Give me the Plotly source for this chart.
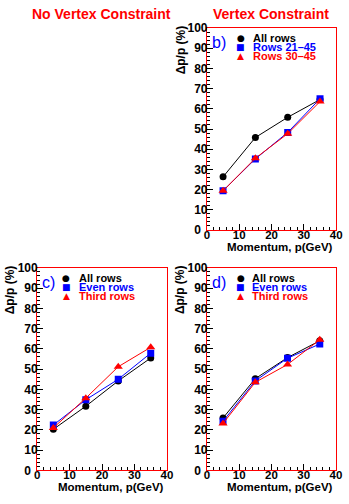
import plotly.graph_objects as go

W, H = 349, 504

momentum = [5, 15, 25, 35]

# panel b) Vertex Constraint
b_all = [26.3, 45.8, 55.8, 64.6]
b_rows21 = [19.4, 35.2, 48.3, 65.0]
b_rows30 = [19.4, 35.5, 47.7, 63.6]
# panel c) No Vertex Constraint
c_all = [20.3, 31.7, 44.2, 55.5]
c_even = [22.4, 34.9, 45.0, 57.9]
c_third = [21.0, 35.7, 51.2, 60.8]
# panel d) Vertex Constraint
d_all = [25.9, 45.3, 55.7, 64.0]
d_even = [24.3, 44.2, 55.4, 62.4]
d_third = [23.2, 43.5, 52.3, 64.5]

x_ticks = [0, 10, 20, 30, 40]
y_ticks = [0, 10, 20, 30, 40, 50, 60, 70, 80, 90, 100]

BLACK, BLUE, RED = "#000000", "#0000ff", "#ff0000"
FONT = "Liberation Sans"


def px(x):
    return x / W


def py(y):
    return 1 - y / H


panels = [
    ("", (209.3, 342), (21.7, 229.3), "b)",
     [(b_all, BLACK, "circle", "All rows"),
      (b_rows21, BLUE, "square", "Rows 21\u201345"),
      (b_rows30, RED, "triangle-up", "Rows 30\u201345")], 244, 255),
    ("2", (35, 168.3), (268.3, 476.7), "c)",
     [(c_all, BLACK, "circle", "All rows"),
      (c_even, BLUE, "square", "Even rows"),
      (c_third, RED, "triangle-up", "Third rows")], 65, 76),
    ("3", (209.3, 341.7), (268.3, 476.7), "d)",
     [(d_all, BLACK, "circle", "All rows"),
      (d_even, BLUE, "square", "Even rows"),
      (d_third, RED, "triangle-up", "Third rows")], 244, 254),
]

fig = go.Figure()
annotations = []
layout = {}
glyph = {"circle": "\u25cf", "square": "\u25a0", "triangle-up": "\u25b2"}
y_ticktext = [("0\u00a0\u00a0" if v == 0 else str(v)) for v in y_ticks]

for suf, (xl, xr), (yt, yb), label, series, mx, tx in panels:
    xa, ya = "x" + suf, "y" + suf
    for vals, col, sym, name in series:
        fig.add_trace(go.Scatter(
            x=momentum, y=vals, xaxis=xa, yaxis=ya, mode="lines+markers",
            line=dict(color=col, width=1),
            marker=dict(color=col, symbol=sym, size=7 if sym != "triangle-up" else 8),
            showlegend=False, name=name))
    xtickfont = dict(family=FONT, size=11.5, color=BLACK, weight="bold")
    ytickfont = dict(family=FONT, size=12, color=BLACK, weight="bold")
    layout["xaxis" + suf] = dict(
        domain=[px(xl), px(xr)], anchor=ya, range=[0, 40],
        tickvals=x_ticks, ticktext=[str(v) for v in x_ticks],
        ticks="inside", ticklen=6, tickcolor=BLACK, tickwidth=1,
        minor=dict(ticks="inside", ticklen=3, dtick=2, tickcolor=BLACK),
        showline=True, linecolor=RED, linewidth=1, mirror=True,
        showgrid=False, zeroline=False, tickfont=xtickfont, ticklabelstandoff=-6)
    layout["yaxis" + suf] = dict(
        domain=[py(yb), py(yt)], anchor=xa, range=[0, 100],
        tickvals=y_ticks, ticktext=y_ticktext,
        ticks="inside", ticklen=6, tickcolor=BLACK, tickwidth=1,
        minor=dict(ticks="inside", ticklen=3, dtick=2, tickcolor=BLACK),
        showline=True, linecolor=RED, linewidth=1, mirror=True,
        showgrid=False, zeroline=False, tickfont=ytickfont, ticklabelstandoff=-4)
    annotations.append(dict(text=label, xref="paper", yref="paper",
                            x=px(xl + 3), y=py(yt + 15), xanchor="left", yanchor="middle",
                            showarrow=False, font=dict(family=FONT, size=16, color=BLUE)))
    for i, (vals, col, sym, name) in enumerate(series):
        yy = yt + 10 + 9.6 * i
        annotations.append(dict(text=glyph[sym], xref="paper", yref="paper",
                                x=px(mx), y=py(yy), xanchor="center", yanchor="middle",
                                showarrow=False,
                                font=dict(family="DejaVu Sans", size=9, color=col)))
        annotations.append(dict(text="<b>%s</b>" % name, xref="paper", yref="paper",
                                x=px(tx), y=py(yy), xanchor="left", yanchor="middle",
                                showarrow=False,
                                font=dict(family=FONT, size=11, color=col)))
    annotations.append(dict(text="<b>Momentum, p(GeV)</b>", xref="paper", yref="paper",
                            x=px(xr - 1), y=py(yb + 17.5), xanchor="right", yanchor="middle",
                            showarrow=False, font=dict(family=FONT, size=11.5, color=BLACK)))
    annotations.append(dict(text="<b>\u0394p/p (%)</b>", xref="paper", yref="paper",
                            x=px(xl - 27), y=py(yt - 5), xanchor="center", yanchor="top",
                            textangle=-90, showarrow=False,
                            font=dict(family=FONT, size=12, color=BLACK)))

annotations.append(dict(text="<b>No Vertex Constraint</b>", xref="paper", yref="paper",
                        x=px(101), y=py(7.5), xanchor="center", yanchor="middle",
                        showarrow=False, font=dict(family=FONT, size=14, color=RED)))
annotations.append(dict(text="<b>Vertex Constraint</b>", xref="paper", yref="paper",
                        x=px(275.5), y=py(7.5), xanchor="center", yanchor="middle",
                        showarrow=False, font=dict(family=FONT, size=14, color=RED)))

fig.update_layout(width=W, height=H, margin=dict(l=0, r=0, t=0, b=0),
                  paper_bgcolor="white", plot_bgcolor="white",
                  showlegend=False, annotations=annotations,
                  **layout)
fig.write_html("out.html")
